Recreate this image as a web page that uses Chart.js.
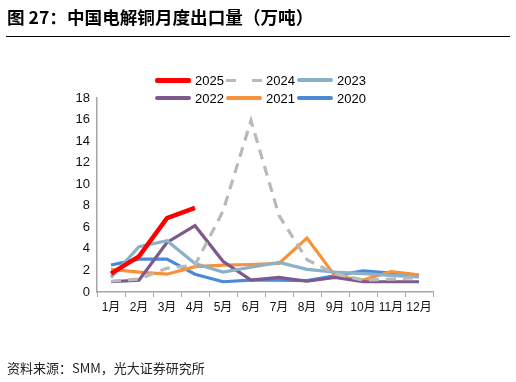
<!DOCTYPE html>
<html><head><meta charset="utf-8">
<script src="https://cdn.jsdelivr.net/npm/chart.js@4/dist/chart.umd.min.js"></script>
<style>
html,body{margin:0;padding:0;background:#fff;}
#wrap{position:relative;width:516px;height:382px;overflow:hidden;font-family:"Liberation Sans",Arial,"Noto Sans CJK SC",sans-serif;}
#title{position:absolute;left:7px;top:4px;font-family:"Noto Sans CJK SC",sans-serif;font-weight:bold;font-size:17.6px;color:#000;white-space:nowrap;}
#rule{position:absolute;left:6px;top:36px;width:504px;height:1px;background:#000;}
#src{position:absolute;left:7px;top:358px;font-family:"Noto Sans CJK SC",sans-serif;font-size:13px;color:#222;white-space:nowrap;}
#legend{position:absolute;left:155px;top:71px;width:260px;}
.row{display:flex;height:18px;align-items:center;}
.item{display:flex;align-items:center;width:71px;}
.sw{width:36px;height:0;margin-right:4px;}
.lt{font-size:13px;color:#000;font-family:"Liberation Sans",Arial,sans-serif;}
canvas{position:absolute;left:0;top:0;}
</style></head>
<body>
<div id="wrap">
<canvas id="c" width="516" height="382"></canvas>
<div id="title">图 27：中国电解铜月度出口量（万吨）</div>
<div id="rule"></div>
<div id="legend"></div>
<div id="src">资料来源：SMM，光大证券研究所</div>
</div>
<script>
const months = ["1月","2月","3月","4月","5月","6月","7月","8月","9月","10月","11月","12月"];
const s2025 = [1.7, 3.3, 6.85, 7.8];
const s2024 = [1.0, 1.2, 2.2, 2.5, 7.5, 15.9, 7.1, 3.0, 1.7, 1.1, 1.2, 1.35];
const s2023 = [1.35, 4.2, 4.75, 2.65, 1.85, 2.3, 2.75, 2.1, 1.85, 1.7, 1.55, 1.4];
const s2022 = [0.95, 1.1, 4.6, 6.15, 2.85, 1.1, 1.35, 1.0, 1.35, 0.95, 0.95, 0.95];
const s2021 = [2.1, 1.85, 1.65, 2.35, 2.5, 2.55, 2.65, 5.0, 1.5, 1.1, 1.9, 1.6];
const s2020 = [2.5, 3.05, 3.05, 1.65, 0.95, 1.1, 1.1, 1.05, 1.5, 1.95, 1.75, 1.5];
const yTicks = [0,2,4,6,8,10,12,14,16,18];

const series = [
  {label:"2025", data:s2025, color:"#FF0000", width:4.5, dash:[]},
  {label:"2024", data:s2024, color:"#B9B9B9", width:3.2, dash:[10,7]},
  {label:"2023", data:s2023, color:"#8AB1C8", width:3.2, dash:[]},
  {label:"2022", data:s2022, color:"#7E5A8C", width:3.2, dash:[]},
  {label:"2021", data:s2021, color:"#F7923A", width:3.2, dash:[]},
  {label:"2020", data:s2020, color:"#4A88D8", width:3.2, dash:[]}
];

const datasets = series.map(s => ({
  label:s.label, data:s.data, borderColor:s.color, backgroundColor:s.color,
  borderWidth:s.width, borderDash:s.dash, pointRadius:0, tension:0, fill:false,
  borderCapStyle:'butt', borderJoinStyle:'miter'
}));

// HTML legend
const lg = document.getElementById('legend');
for (let r=0;r<2;r++){
  const row=document.createElement('div'); row.className='row';
  for (let c=0;c<3;c++){
    const s=series[r*3+c];
    const it=document.createElement('div'); it.className='item';
    const sw=document.createElement('div'); sw.className='sw';
    if (s.dash.length){
      sw.style.height='3px';
      sw.style.background='linear-gradient(to right,'+s.color+' 0,'+s.color+' 10px,transparent 10px,transparent 26px,'+s.color+' 26px,'+s.color+' 36px)';
    } else { sw.style.height='4px'; sw.style.background=s.color; sw.style.borderRadius='2px'; if(s.label==='2025'){sw.style.height='5px';} }
    const t=document.createElement('span'); t.className='lt'; t.textContent=s.label;
    it.appendChild(sw); it.appendChild(t); row.appendChild(it);
  }
  lg.appendChild(row);
}

new Chart(document.getElementById('c'), {
  type:'line',
  data:{labels:months, datasets:datasets},
  options:{
    responsive:false, animation:false,
    layout:{padding:{left:57, right:83, top:98, bottom:70}},
    plugins:{legend:{display:false}, tooltip:{enabled:false}},
    scales:{
      x:{
        offset:true,
        grid:{display:true, offset:true, drawOnChartArea:false, drawTicks:true, tickLength:5, color:'#A6A6A6', lineWidth:1},
        border:{display:true, color:'#A6A6A6', width:1.5},
        ticks:{color:'#111', font:{family:'"Liberation Sans", Arial, "Noto Sans CJK SC"', size:12}, padding:3, maxRotation:0, autoSkip:false},
        afterFit:(s)=>{s.height=20;}
      },
      y:{
        min:0, max:18,
        afterBuildTicks:(s)=>{s.ticks = yTicks.map(v=>({value:v}));},
        grid:{display:false, drawOnChartArea:false, drawTicks:false},
        border:{display:true, color:'#A6A6A6', width:1.5},
        ticks:{color:'#111', font:{family:'"Liberation Sans", Arial', size:13}, padding:7},
        afterFit:(s)=>{s.width=40;}
      }
    }
  }
});
</script>
</body></html>
